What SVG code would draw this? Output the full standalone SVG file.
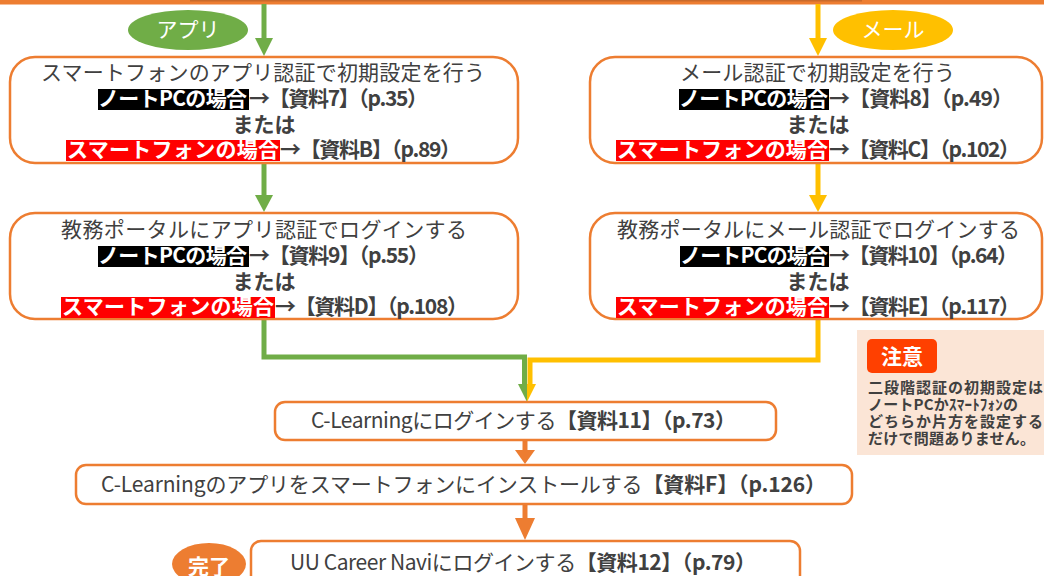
<svg xmlns="http://www.w3.org/2000/svg" width="1044" height="576" viewBox="0 0 1044 576">
<style>
.t{font-family:"Noto Sans CJK JP","Noto Sans CJK SC",sans-serif;font-size:21px;fill:#404040}
.b{font-weight:700}
.w{fill:#fff}
.m{text-anchor:middle}
.box{fill:#fff;stroke:#ED7D31;stroke-width:2.5}
.n{font-family:"Noto Sans CJK JP",sans-serif;font-size:15px;font-weight:700;fill:#404040}
</style>
<rect x="0" y="0" width="1044" height="4.5" fill="#ED7D31"/>
<rect x="190" y="0" width="672" height="1.5" fill="#C96A2B"/>

<g id="connectors" stroke-width="5" fill="none">
  <line x1="264" y1="4" x2="264" y2="40" stroke="#70AD47"/>
  <polygon points="255,38 273,38 264,56" fill="#70AD47" stroke="none"/>
  <line x1="264" y1="163" x2="264" y2="197" stroke="#70AD47"/>
  <polygon points="255,195 273,195 264,212" fill="#70AD47" stroke="none"/>
  <line x1="818" y1="4" x2="818" y2="40" stroke="#FFC000"/>
  <polygon points="809,38 827,38 818,56" fill="#FFC000" stroke="none"/>
  <line x1="818" y1="163" x2="818" y2="197" stroke="#FFC000"/>
  <polygon points="809,195 827,195 818,212" fill="#FFC000" stroke="none"/>
  <polyline points="818,319 818,360 530,360 530,386" stroke="#FFC000"/>
  <polyline points="264,319 264,357 524.5,357 524.5,386" stroke="#70AD47"/>
  <polygon points="518,384 527,384 527,402" fill="#70AD47" stroke="none"/>
  <polygon points="527,384 536,384 527,402" fill="#FFC000" stroke="none"/>
  <line x1="525" y1="440" x2="525" y2="452" stroke="#ED7D31"/>
  <polygon points="515,450 535,450 525,464" fill="#ED7D31" stroke="none"/>
  <line x1="525" y1="504" x2="525" y2="520" stroke="#ED7D31"/>
  <polygon points="515,518 535,518 525,540" fill="#ED7D31" stroke="none"/>
</g>

<g id="label-app">
  <ellipse cx="188" cy="30" rx="60" ry="20" fill="#70AD47"/>
  <text class="t w m" x="188" y="37" font-size="20">アプリ</text>
</g>
<g id="label-mail">
  <ellipse cx="893" cy="30" rx="60" ry="20" fill="#FFC000"/>
  <text class="t w m" x="893" y="37" font-size="20">メール</text>
</g>

<g id="box1">
  <rect class="box" x="10" y="57" width="508" height="106" rx="25"/>
  <text class="t m" x="263" y="80" textLength="444">スマートフォンのアプリ認証で初期設定を行う</text>
  <rect x="98" y="89" width="151" height="21" fill="#000"/>
  <text class="t b w" x="98" y="106" textLength="149">ノートPCの場合</text>
  <text class="t b" x="249" y="106" textLength="179">→【資料7】（p.35）</text>
  <text class="t b m" x="264" y="132">または</text>
  <rect x="66" y="140" width="214" height="21" fill="#FF0000"/>
  <text class="t b w" x="67" y="157" textLength="212">スマートフォンの場合</text>
  <text class="t b" x="280" y="157" textLength="181">→【資料B】（p.89）</text>
</g>

<g id="box2">
  <rect class="box" x="590" y="57" width="452" height="106" rx="25"/>
  <text class="t m" x="817.5" y="80" textLength="275">メール認証で初期設定を行う</text>
  <rect x="679" y="89" width="150" height="21" fill="#000"/>
  <text class="t b w" x="679" y="106" textLength="149">ノートPCの場合</text>
  <text class="t b" x="829" y="106" textLength="184">→【資料8】（p.49）</text>
  <text class="t b m" x="818" y="132">または</text>
  <rect x="616" y="140" width="213" height="21" fill="#FF0000"/>
  <text class="t b w" x="617" y="157" textLength="211">スマートフォンの場合</text>
  <text class="t b" x="829" y="157" textLength="191">→【資料C】（p.102）</text>
</g>

<g id="box3">
  <rect class="box" x="10" y="213" width="508" height="106" rx="25"/>
  <text class="t m" x="264" y="237" textLength="406">教務ポータルにアプリ認証でログインする</text>
  <rect x="98" y="246" width="151" height="21" fill="#000"/>
  <text class="t b w" x="98" y="263" textLength="149">ノートPCの場合</text>
  <text class="t b" x="249" y="263" textLength="180">→【資料9】（p.55）</text>
  <text class="t b m" x="264" y="289">または</text>
  <rect x="61" y="297" width="214" height="21" fill="#FF0000"/>
  <text class="t b w" x="62" y="314" textLength="212">スマートフォンの場合</text>
  <text class="t b" x="275" y="314" textLength="193">→【資料D】（p.108）</text>
</g>

<g id="box4">
  <rect class="box" x="590" y="213" width="452" height="106" rx="25"/>
  <text class="t m" x="818.5" y="237" textLength="403">教務ポータルにメール認証でログインする</text>
  <rect x="680" y="246" width="149" height="21" fill="#000"/>
  <text class="t b w" x="680" y="263" textLength="148">ノートPCの場合</text>
  <text class="t b" x="829" y="263" textLength="189">→【資料10】（p.64）</text>
  <text class="t b m" x="818" y="289">または</text>
  <rect x="616" y="297" width="213" height="21" fill="#FF0000"/>
  <text class="t b w" x="617" y="314" textLength="211">スマートフォンの場合</text>
  <text class="t b" x="829" y="314" textLength="191">→【資料E】（p.117）</text>
</g>

<g id="note">
  <rect x="857" y="330" width="187" height="125" fill="#FBE5D6"/>
  <rect x="867" y="339" width="70" height="34" rx="5" fill="#FF4000"/>
  <text class="t b w m" x="902" y="364" font-size="20">注意</text>
  <text class="n" x="868" y="393" textLength="175">二段階認証の初期設定は</text>
  <text class="n" x="868" y="410" textLength="150">ノートPCかｽﾏｰﾄﾌｫﾝの</text>
  <text class="n" x="868" y="427" textLength="175">どちらか片方を設定する</text>
  <text class="n" x="868" y="444" textLength="167">だけで問題ありません。</text>
</g>

<g id="box5">
  <rect class="box" x="275" y="402" width="501" height="38" rx="10"/>
  <text class="t m" x="523.5" y="428" textLength="425">C-Learningにログインする<tspan class="b">【資料11】（p.73）</tspan></text>
</g>

<g id="box6">
  <rect class="box" x="76" y="465" width="776" height="39" rx="10"/>
  <text class="t m" x="463.5" y="492" textLength="725">C-Learningのアプリをスマートフォンにインストールする<tspan class="b">【資料F】（p.126）</tspan></text>
</g>

<g id="done">
  <ellipse cx="209" cy="564" rx="37" ry="21" fill="#ED7D31"/>
  <text class="t b w m" x="209" y="574" font-size="21">完了</text>
</g>

<g id="box7">
  <rect class="box" x="251" y="541" width="549" height="60" rx="10"/>
  <text class="t m" x="523" y="570" textLength="466">UU Career Naviにログインする<tspan class="b">【資料12】（p.79）</tspan></text>
</g>
</svg>
